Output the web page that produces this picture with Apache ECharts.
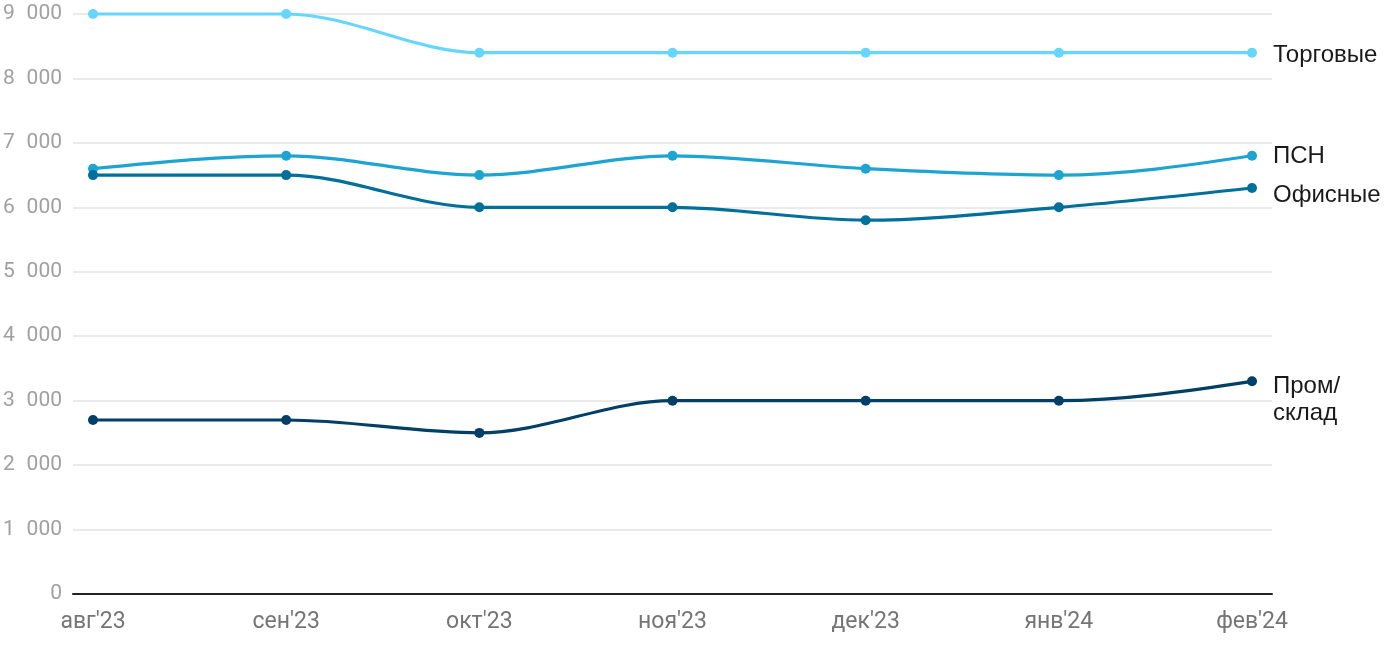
<!DOCTYPE html>
<html>
<head>
<meta charset="utf-8">
<script src="https://cdn.jsdelivr.net/npm/echarts@6/dist/echarts.min.js"></script>
<style>
html,body{margin:0;padding:0;background:#fff;}
#chart{width:1400px;height:650px;}
</style>
</head>
<body>
<div id="chart"></div>
<script>
const categories = ["авг'23", "сен'23", "окт'23", "ноя'23", "дек'23", "янв'24", "фев'24"];
const torgovye = [9000, 9000, 8400, 8400, 8400, 8400, 8400];
const psn = [6600, 6800, 6500, 6800, 6600, 6500, 6800];
const ofisnye = [6500, 6500, 6000, 6000, 5800, 6000, 6300];
const promsklad = [2700, 2700, 2500, 3000, 3000, 3000, 3300];
const seriesNames = ['Торговые', 'ПСН', 'Офисные', 'Пром/склад'];
const seriesLabels = ['Торговые', 'ПСН', 'Офисные', 'Пром/\nсклад'];
const yTicks = [0, 1000, 2000, 3000, 4000, 5000, 6000, 7000, 8000, 9000];

const colors = ['#66d6ff', '#1ea4d1', '#006f9a', '#003f66'];
const labelDy = [3, 1, 7, 19];
const allValues = [torgovye, psn, ofisnye, promsklad];

// monotone-x tangents (data space, unit step in x)
function tangents(v) {
  const n = v.length, s = [], t = [];
  const sign = x => x < 0 ? -1 : 1;
  for (let i = 0; i < n - 1; i++) s[i] = v[i + 1] - v[i];
  for (let i = 1; i < n - 1; i++) {
    const p = (s[i - 1] + s[i]) / 2;
    t[i] = (sign(s[i - 1]) + sign(s[i])) * Math.min(Math.abs(s[i - 1]), Math.abs(s[i]), 0.5 * Math.abs(p)) || 0;
  }
  t[0] = (3 * s[0] - t[1]) / 2;
  t[n - 1] = (3 * s[n - 2] - t[n - 2]) / 2;
  return t;
}

const series = [];
allValues.forEach((vals, k) => {
  const t = tangents(vals);
  series.push({
    type: 'custom',
    name: seriesNames[k] + '_curve',
    silent: true,
    z: 2,
    data: vals.map((v, i) => [i, v]),
    encode: { x: 0, y: 1 },
    renderItem: function (params, api) {
      const i = params.dataIndex;
      if (i >= vals.length - 1) return null;
      const p0 = api.coord([i, vals[i]]);
      const p1 = api.coord([i + 1, vals[i + 1]]);
      const c0 = api.coord([i + 1 / 3, vals[i] + t[i] / 3]);
      const c1 = api.coord([i + 1 - 1 / 3, vals[i + 1] - t[i + 1] / 3]);
      return {
        type: 'bezierCurve',
        shape: { x1: p0[0], y1: p0[1], x2: p1[0], y2: p1[1], cpx1: c0[0], cpy1: c0[1], cpx2: c1[0], cpy2: c1[1] },
        style: { stroke: colors[k], lineWidth: 3.2, fill: null }
      };
    }
  });
  series.push({
    type: 'line',
    name: seriesNames[k],
    silent: true,
    z: 3,
    symbol: 'circle',
    symbolSize: 10,
    showSymbol: true,
    lineStyle: { width: 0, opacity: 0 },
    itemStyle: { color: colors[k] },
    emphasis: { disabled: true },
    data: vals.map((v, i) => {
      const item = { value: [i, v] };
      if (i === vals.length - 1) {
        item.label = {
          show: true, position: 'right', distance: 16,
          formatter: seriesLabels[k],
          color: '#1a1a1a', fontFamily: 'Liberation Sans', fontSize: 24, lineHeight: 27,
          offset: [0, labelDy[k]]
        };
      }
      return item;
    })
  });
});

const chart = echarts.init(document.getElementById('chart'), null, { renderer: 'canvas' });
chart.setOption({
  animation: false,
  backgroundColor: '#fff',
  grid: { left: 72, right: 128, top: 14, bottom: 56, containLabel: false },
  xAxis: {
    type: 'value',
    min: -20 / 193.333,
    max: 6 + 20 / 193.333,
    axisLine: { show: true, onZero: false, lineStyle: { color: '#222', width: 2 } },
    axisTick: { show: false },
    splitLine: { show: false },
    axisLabel: {
      customValues: categories.map((c, i) => i),
      formatter: v => categories[Math.round(v)],
      color: '#757575', fontFamily: 'Roboto', fontSize: 23, margin: 17
    }
  },
  yAxis: {
    type: 'value',
    min: 0, max: 9000, interval: 1000,
    axisLine: { show: false },
    axisTick: { show: false },
    splitLine: { show: true, lineStyle: { color: '#e3e3e3', width: 1.5 } },
    axisLabel: {
      formatter: v => String(v).replace(/\B(?=(\d{3})+(?!\d))/g, '\u2007'),
      color: '#a0a0a0', fontFamily: 'Roboto', fontSize: 21, margin: 11
    }
  },
  series: series
});
</script>
</body>
</html>
